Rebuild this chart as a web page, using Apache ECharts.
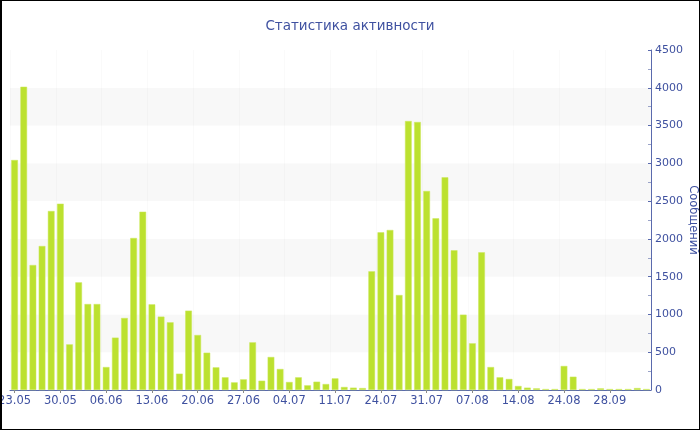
<!DOCTYPE html>
<html>
<head>
<meta charset="utf-8">
<script src="https://cdn.jsdelivr.net/npm/echarts@6/dist/echarts.min.js"></script>
<style>
html,body{margin:0;padding:0;background:#fff;}
#c{width:700px;height:430px;}
#frame{position:absolute;left:0;top:0;width:700px;height:430px;box-sizing:border-box;border:1px solid #000;border-left-width:2px;pointer-events:none;}
</style>
</head>
<body>
<div id="c"></div>
<div id="frame"></div>
<script>
var categories = [
  '23.05','24.05','25.05','26.05','27.05',
  '30.05','31.05','01.06','02.06','03.06',
  '06.06','07.06','08.06','09.06','10.06',
  '13.06','14.06','15.06','16.06','17.06',
  '20.06','21.06','22.06','23.06','24.06',
  '27.06','28.06','29.06','30.06','01.07',
  '04.07','05.07','06.07','07.07','08.07',
  '11.07','12.07','13.07','14.07','15.07',
  '24.07','25.07','26.07','27.07','28.07',
  '31.07','01.08','02.08','03.08','04.08',
  '07.08','08.08','09.08','10.08','11.08',
  '14.08','15.08','16.08','17.08','18.08',
  '24.08','25.08','01.09','08.09','15.09',
  '28.09','29.09','30.09','03.10','04.10'
];
var messages = [
  3044,4014,1654,1906,2369,
  2466,604,1425,1138,1138,
  304,693,953,2012,2360,
  1134,971,896,216,1050,
  728,494,300,168,101,
  141,631,123,437,278,
  106,168,62,110,79,
  154,40,31,26,1571,
  2087,2118,1257,3560,3547,
  2634,2272,2815,1849,997,
  618,1822,304,168,146,
  53,31,22,13,13,
  318,176,13,13,22,
  13,13,13,26,13
];
var titleText = 'Статистика активности';
var axisName = 'Сообщений';

var textColor = '#3f51a0';
var axisColor = '#5a6aad';
var font = 'DejaVu Sans';

var chart = echarts.init(document.getElementById('c'));
chart.setOption({
  animation: false,
  backgroundColor: '#fff',
  title: {
    text: titleText,
    left: 'center',
    top: 14,
    textStyle: {color: textColor, fontSize: 13.5, fontWeight: 'normal', fontFamily: font}
  },
  grid: {left: 10, right: 49, top: 50, bottom: 40, containLabel: false, outerBoundsMode: 'none'},
  xAxis: {
    type: 'category',
    data: categories,
    axisLine: {lineStyle: {color: axisColor, width: 1}},
    axisTick: {show: true, alignWithLabel: true, interval: 4, length: 3, lineStyle: {color: '#888'}},
    axisLabel: {interval: 4, color: textColor, fontSize: 11.5, fontFamily: font, margin: 5},
    splitLine: {show: true, interval: 4, lineStyle: {color: 'rgba(0,0,0,0.02)', width: 1}}
  },
  yAxis: {
    type: 'value',
    position: 'right',
    min: 0,
    max: 4500,
    interval: 500,
    name: axisName,
    nameLocation: 'middle',
    nameRotate: -90,
    nameGap: 42,
    nameMoveOverlap: false,
    nameTextStyle: {color: textColor, fontSize: 11.5, fontFamily: font, verticalAlign: 'middle', align: 'center'},
    axisLine: {show: true, lineStyle: {color: axisColor, width: 1}},
    axisTick: {show: true, inside: true, length: 3, lineStyle: {color: axisColor}},
    minorTick: {show: true, splitNumber: 2, length: 3, lineStyle: {color: '#9aa3c8'}},
    axisLabel: {color: textColor, fontSize: 11, fontFamily: font, margin: 4,
      formatter: function (v) { return String(v); }},
    splitLine: {show: false},
    splitArea: {show: true, areaStyle: {color: ['#ffffff', '#f8f8f8']}}
  },
  series: [{
    type: 'bar',
    data: messages,
    barCategoryGap: '27%',
    itemStyle: {color: '#bce12f', borderColor: '#cde85f', borderWidth: 0.5}
  }]
});
</script>
</body>
</html>
